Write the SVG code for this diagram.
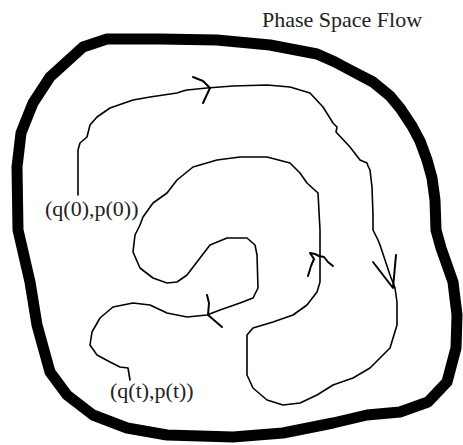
<svg xmlns="http://www.w3.org/2000/svg" width="463" height="445" viewBox="0 0 463 445">
<style>
.txt{font-family:"Liberation Serif","Times New Roman",serif;font-size:22px;fill:#222}
.bd{fill:none;stroke:#000;stroke-width:11;stroke-linejoin:round;stroke-linecap:round}
.ln{fill:none;stroke:#000;stroke-width:1.6;stroke-linejoin:round;stroke-linecap:round}
.ar{fill:none;stroke:#000;stroke-width:2;stroke-linejoin:round;stroke-linecap:round}
</style>
<rect width="463" height="445" fill="#fff"/>
<g id="boundary">
<path class="bd" d="M107,39 L160,39 L217,40 L270,45 L317,54 L335,62 L350,70 L373,82 L390,96 L400,108 L412,126 L420,141 L427,160 L432,178 L435,200 L436,230 L441,248 L453,282 L457,315 L456,348 L447,382 L428,402 L400,412 L367,415 L333,423 L283,433 L233,437 L167,435 L127,428 L93,415 L67,395 L50,372 L37,325 L30,282 L18,230 L17,167 L21,133 L33,103 L50,77 L83,47 Z"/>
</g>
<g id="title"><text class="txt" x="262" y="27">Phase Space Flow</text></g>
<g id="start"><text class="txt" x="45" y="216">(q(0),p(0))</text></g>
<g id="end"><text class="txt" x="110" y="398">(q(t),p(t))</text></g>
<g id="connectors">
<path class="ln" d="M78,195 L78,150 L80,143 L87,137 L90,125 L97,117 L110,108 L133,100 L150,97 L177,93 L183,91 L187,90 L207,88 L233,86 L267,85 L290,87 L310,93 L323,107 L333,123 L337,127 L336,132 L350,147 L360,160 L367,163 L368,166 L370,170 L372,187 L373,215 L373,230 L378,240 L380,245 L390,275 L395,288 L397,302 L397,325 L390,348 L370,368 L353,378 L333,385 L317,395 L300,403 L283,405 L267,400 L253,388 L247,375 L247,335 L253,328 L273,322 L293,315 L307,305 L317,292 L320,282 L320,230 L318,193 L307,183 L300,173 L290,163 L267,157 L240,157 L217,160 L193,167 L177,180 L167,193 L153,203 L143,217 L140,225 L135,235 L133,252 L140,268 L153,278 L167,283 L177,282 L187,275 L200,258 L210,245 L227,238 L247,238 L255,245 L257,255 L258,288 L253,298 L240,303 L220,310 L207,315 L187,317 L167,313 L150,305 L133,303 L113,307 L100,318 L92,332 L90,345 L97,355 L110,362 L120,367 L128,368 L130,380"/>
<path class="ar" d="M193,77 L203,81 L210,88 L203,103"/>
<path class="ar" d="M373,262 L383,275 L393,288 L396,255"/>
<path class="ar" d="M308,276 L311,266 L314,259 L310,253 L315,254 L319,256 L324,257 L328,262 L333,266"/>
<path class="ar" d="M207,295 L209,303 L208,315 L222,327"/>
</g>
</svg>
